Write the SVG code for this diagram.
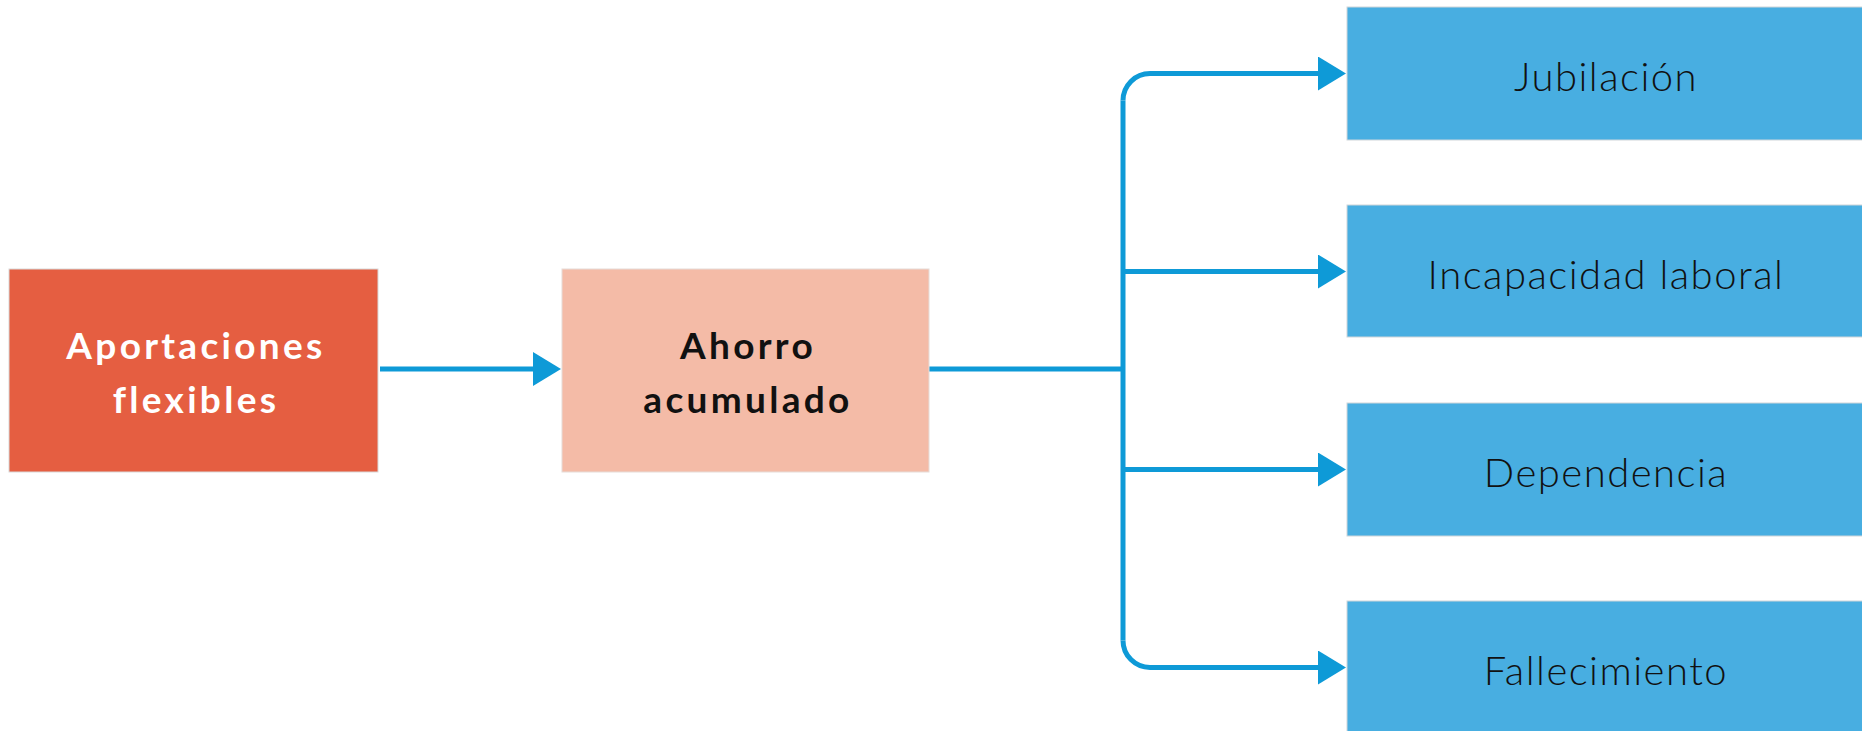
<svg xmlns="http://www.w3.org/2000/svg" width="1862" height="731" viewBox="0 0 1862 731">
  <style>
    .bold { font-family: Lato, "Liberation Sans", sans-serif; font-weight: 700; font-size: 37px; letter-spacing: 3.3px; text-anchor: middle; }
    .light { font-family: Lato, "Liberation Sans", sans-serif; font-weight: 300; font-size: 40px; letter-spacing: 1.5px; fill: #111111; text-anchor: middle; }
    .blue { fill: #48AEE1; stroke: #cfd6da; stroke-width: 1; }
    .conn { fill: none; stroke: #0E9AD7; stroke-width: 5; }
  </style>
  <defs>
    <marker id="arrow" markerUnits="userSpaceOnUse" markerWidth="28" markerHeight="34" refX="0" refY="17" orient="auto">
      <path d="M0,0 L28,17 L0,34 z" fill="#0E9AD7"/>
    </marker>
  </defs>
  <rect width="1862" height="731" fill="#ffffff"/>

  <g id="connectors">
    <path class="conn" d="M380,369 H533" marker-end="url(#arrow)"/>
    <path class="conn" d="M929,369 H1123"/>
    <path class="conn" d="M1123,100.5 V640.5"/>
    <path class="conn" d="M1123,100.5 A27,27 0 0 1 1150,73.5 H1318" marker-end="url(#arrow)"/>
    <path class="conn" d="M1123,271.5 H1318" marker-end="url(#arrow)"/>
    <path class="conn" d="M1123,469.5 H1318" marker-end="url(#arrow)"/>
    <path class="conn" d="M1123,640.5 A27,27 0 0 0 1150,667.5 H1318" marker-end="url(#arrow)"/>
  </g>

  <g id="aportaciones">
    <rect x="9" y="269" width="369" height="203" fill="#E55E41" stroke="#d9d9d9" stroke-width="1"/>
    <text class="bold" x="196" y="359" fill="#ffffff">Aportaciones</text>
    <text class="bold" x="196" y="413" fill="#ffffff">flexibles</text>
  </g>

  <g id="ahorro">
    <rect x="562" y="269" width="367" height="203" fill="#F4BBA7" stroke="#e6dcd8" stroke-width="1"/>
    <text class="bold" x="748" y="359" fill="#111111">Ahorro</text>
    <text class="bold" x="748" y="413" fill="#111111">acumulado</text>
  </g>

  <g id="jubilacion">
    <rect class="blue" x="1347" y="7" width="520" height="133"/>
    <text class="light" x="1606" y="91">Jubilación</text>
  </g>

  <g id="incapacidad">
    <rect class="blue" x="1347" y="205" width="520" height="132"/>
    <text class="light" x="1606" y="289">Incapacidad laboral</text>
  </g>

  <g id="dependencia">
    <rect class="blue" x="1347" y="403" width="520" height="133"/>
    <text class="light" x="1606" y="487">Dependencia</text>
  </g>

  <g id="fallecimiento">
    <rect class="blue" x="1347" y="601" width="520" height="140"/>
    <text class="light" x="1606" y="685">Fallecimiento</text>
  </g>
</svg>
